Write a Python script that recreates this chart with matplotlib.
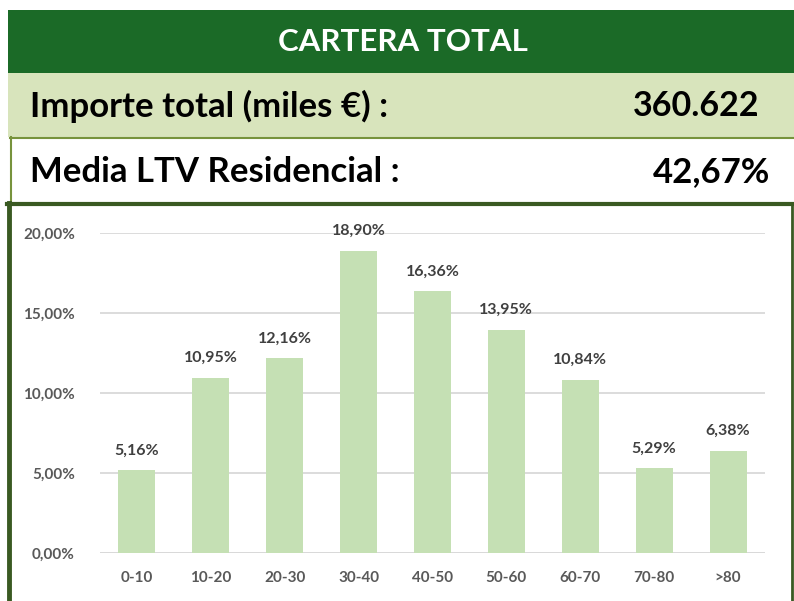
import matplotlib
matplotlib.use("Agg")
import matplotlib.pyplot as plt
from matplotlib.patches import Rectangle
from matplotlib.lines import Line2D

# ── DATA ─────────────────────────────────────────────────────
categories = ["0-10", "10-20", "20-30", "30-40", "40-50",
              "50-60", "60-70", "70-80", ">80"]
values = [5.16, 10.95, 12.16, 18.90, 16.36, 13.95, 10.84, 5.29, 6.38]
y_ticks = [0, 5, 10, 15, 20]

title = "CARTERA TOTAL"
row1_label, row1_value = "Importe total (miles €) :", "360.622"
row2_label, row2_value = "Media LTV Residencial :", "42,67%"

# ── STYLE ────────────────────────────────────────────────────
W, H = 794, 601
DARK_GREEN = "#1b6a27"
LIGHT_BAND = "#d8e4bc"
OLIVE = "#77933c"
BOX_GREEN = "#3a5a22"
BAR = "#c5e0b4"
GRID = "#d9d9d9"
FONT = "Lato"


def fx(px):
    return px / W


def fy(py):
    return 1 - py / H


def pct(v):
    return f"{v:.2f}".replace(".", ",") + "%"


fig = plt.figure(figsize=(W / 100, H / 100), dpi=100, facecolor="white")

# header bands
fig.patches.append(Rectangle((fx(8), fy(73)), fx(786), 63 / H,
                             transform=fig.transFigure, color=DARK_GREEN, lw=0))
fig.patches.append(Rectangle((fx(8), fy(137)), fx(786), 64 / H,
                             transform=fig.transFigure, color=LIGHT_BAND, lw=0))

# olive frame of the LTV row
fig.add_artist(Line2D([fx(10), fx(794)], [fy(137.5), fy(137.5)],
                      transform=fig.transFigure, color=OLIVE, lw=1.5))
fig.add_artist(Line2D([fx(10.5), fx(10.5)], [fy(137), fy(204)],
                      transform=fig.transFigure, color=OLIVE, lw=1.5))

# chart box frame
fig.add_artist(Line2D([fx(9), fx(9)], [fy(203), fy(601)],
                      transform=fig.transFigure, color=BOX_GREEN, lw=3.5))
fig.add_artist(Line2D([fx(7), fx(793)], [fy(204), fy(204)],
                      transform=fig.transFigure, color=BOX_GREEN, lw=3))
fig.add_artist(Line2D([fx(792), fx(792)], [fy(203), fy(601)],
                      transform=fig.transFigure, color=BOX_GREEN, lw=2))

fig.text(fx(403), fy(42), title, color="white", fontsize=22.5,
         fontweight="bold", family=FONT, ha="center", va="center")
fig.text(fx(30), fy(106), row1_label, color="black", fontsize=25,
         fontweight="bold", family=FONT, ha="left", va="center")
fig.text(fx(760), fy(106), row1_value, color="black", fontsize=24.5,
         fontweight="bold", family=FONT, ha="right", va="center")
fig.text(fx(30), fy(172), row2_label, color="black", fontsize=25,
         fontweight="bold", family=FONT, ha="left", va="center")
fig.text(fx(770), fy(172), row2_value, color="black", fontsize=25,
         fontweight="bold", family=FONT, ha="right", va="center")

# ── BAR CHART ────────────────────────────────────────────────
ax = fig.add_axes([fx(100), fy(553), fx(665), (553 - 233) / H])
x = range(len(categories))
ax.bar(x, values, width=0.5, color=BAR, zorder=2)
for xi, v in zip(x, values):
    ax.text(xi, v + 0.8, pct(v), ha="center", va="bottom", fontsize=11.5,
            fontweight="bold", color="#404040", family=FONT)

ax.set_xlim(-0.5, len(categories) - 0.5)
ax.set_ylim(0, 20)
ax.set_yticks(y_ticks)
ax.set_yticklabels([pct(t) for t in y_ticks])
ax.set_xticks(list(x))
ax.set_xticklabels(categories)
for lbl in ax.get_xticklabels() + ax.get_yticklabels():
    lbl.set_fontweight("bold")
    lbl.set_fontfamily(FONT)
    lbl.set_fontsize(11)
    lbl.set_color("#595959")
ax.tick_params(length=0)
ax.tick_params(axis="y", pad=18)
ax.tick_params(axis="x", pad=13)
ax.grid(axis="y", color=GRID, lw=1.3, zorder=0)
for s in ax.spines.values():
    s.set_visible(False)
ax.axhline(0, color=GRID, lw=1.3, zorder=1)

fig.savefig("out.png", dpi=100, facecolor="white")
